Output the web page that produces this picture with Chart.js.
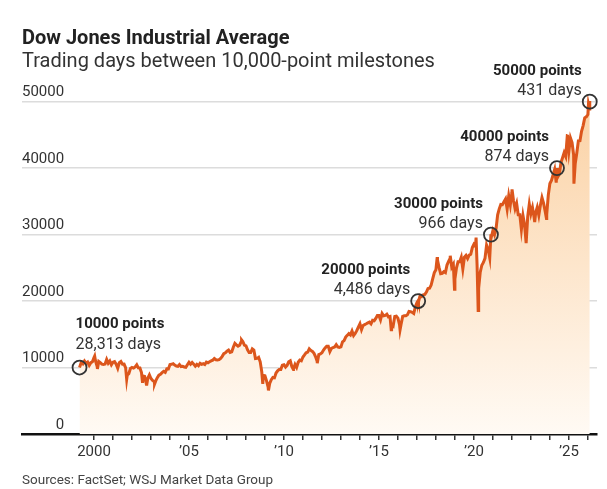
<!DOCTYPE html>
<html>
<head>
<meta charset="utf-8">
<title>Dow Jones Industrial Average</title>
<script src="https://cdn.jsdelivr.net/npm/chart.js@4.4.1/dist/chart.umd.min.js"></script>
<style>
  html, body { margin: 0; padding: 0; background: #fff; }
  body { width: 607px; height: 489px; position: relative; overflow: hidden; font-family: Roboto, "Noto Sans", sans-serif; }
  #wrap { position: absolute; left: 0; top: 0; width: 607px; height: 489px; }
  .title { position: absolute; left: 22px; top: 25px; font-size: 20px; line-height: 24px; font-weight: 700; color: #222; }
  .subtitle { position: absolute; left: 22px; top: 48px; font-size: 20px; line-height: 24px; color: #333; }
  .source { position: absolute; left: 22px; top: 471px; font-size: 13.5px; line-height: 16px; color: #444; }
</style>
</head>
<body>
<div id="wrap"><canvas id="chart"></canvas></div>
<div class="title">Dow Jones Industrial Average</div>
<div class="subtitle">Trading days between 10,000-point milestones</div>
<div class="source">Sources: FactSet; WSJ Market Data Group</div>
<script>
// Month-end closes, starting April 1999
const firstYear = 1999;
const firstMonth = 4;
const monthlyCloses = [
  10789, 10560, 10971, 10655, 10829, 10337, 10729, 10878, 11497,
  10941, 10128, 10922, 10734, 10522, 10448, 10522, 11215, 10651, 10971, 10415, 10787,
  10887, 10495, 9879, 10735, 10912, 10502, 10523, 9950, 8848, 9075, 9852, 10022,
  9920, 10106, 10404, 9946, 9925, 9243, 8737, 8664, 7592, 8397, 8896, 8342,
  8054, 7891, 7992, 8480, 8850, 8985, 9234, 9416, 9275, 9801, 9782, 10454,
  10488, 10584, 10358, 10226, 10188, 10435, 10140, 10174, 10080, 10027, 10428, 10783,
  10490, 10766, 10504, 10193, 10467, 10275, 10641, 10482, 10569, 10440, 10806, 10718,
  10865, 10993, 11109, 11367, 11168, 11150, 11186, 11381, 11679, 12081, 12222, 12463,
  12622, 12269, 12354, 13063, 13628, 13409, 13212, 13358, 13896, 13930, 13372, 13265,
  12650, 12266, 12263, 12820, 12638, 11350, 11378, 11544, 10851, 9325, 8829, 8776,
  8001, 7063, 7609, 8168, 8500, 8447, 9172, 9496, 9712, 9713, 10345, 10428,
  10067, 10325, 10857, 11009, 10137, 9774, 10466, 10015, 10788, 11118, 11006, 11578,
  11892, 12226, 12320, 12811, 12570, 12414, 12143, 11614, 10913, 11955, 12046, 12218,
  12633, 12952, 13212, 13214, 12393, 12880, 13009, 13091, 13437, 13096, 13026, 13104,
  13861, 14054, 14579, 14840, 15116, 14910, 15500, 14810, 15130, 15546, 16086, 16577,
  15699, 16322, 16458, 16581, 16717, 16827, 16563, 17098, 17043, 17391, 17828, 17823,
  17165, 18133, 17776, 17841, 18011, 17620, 17690, 16528, 16285, 17664, 17720, 17425,
  16466, 16517, 17685, 17774, 17787, 17930, 18432, 18401, 18308, 18142, 19124, 19763,
  19864, 20812, 20663, 20941, 21009, 21350, 21891, 21948, 22405, 23377, 24272, 24719,
  26149, 25029, 24103, 24163, 24416, 24271, 25415, 25965, 26458, 25116, 25538, 23327,
  24999, 25916, 25929, 26593, 24815, 26600, 26864, 26403, 26917, 27046, 28051, 28538,
  28256, 25409, 21917, 24346, 25383, 25813, 26428, 28430, 27782, 26502, 29639, 30606,
  29983, 30932, 32982, 33875, 34529, 34503, 34935, 35361, 33844, 35820, 34484, 36338,
  35132, 33893, 34678, 32977, 32990, 30775, 32845, 31510, 28726, 32733, 34590, 33147,
  34086, 32657, 33274, 34098, 32908, 34408, 35560, 34722, 33508, 33053, 35951, 37690,
  38150, 38996, 39807, 37816, 38686, 39119, 40843, 41563, 42330, 41763, 44911, 42544,
  44544, 43841, 42002, 40669, 42270, 44095, 44131, 45545, 46398, 47563, 47716, 48063,
  48892
];

// Intra-month highs and lows
const swingDates = [
  '2000-01-14', '2000-03-07', '2001-09-21', '2002-07-23', '2002-10-09', '2003-03-11',
  '2007-10-09', '2008-11-20', '2009-03-09', '2010-07-02', '2011-10-03', '2015-08-25',
  '2016-02-11', '2018-01-26', '2018-10-03', '2018-12-24', '2020-02-12', '2020-03-23',
  '2022-01-04', '2023-03-15', '2023-10-27', '2024-12-04', '2025-04-08', '2026-01-12'
];
const swingValues = [
  11723, 9796, 8236, 7702, 7286, 7524,
  14165, 7552, 6547, 9686, 10655, 15666,
  15660, 26617, 26828, 21792, 29551, 18592,
  36800, 31874, 32418, 45014, 37645, 49590
];

// Milestone crossings
const milestoneDates = ['1999-03-29', '2017-01-25', '2020-11-24', '2024-05-17', '2026-02-06'];
const milestoneValues = [10000, 20000, 30000, 40000, 50000];
const milestoneCloses = [10006, 20069, 30046, 40004, 50116];
const milestoneLabels = ['10000 points', '20000 points', '30000 points', '40000 points', '50000 points'];
const milestoneDays = ['28,313 days', '4,486 days', '966 days', '874 days', '431 days'];

const yTicks = [0, 10000, 20000, 30000, 40000, 50000];
const xTickYears = [2000, 2001, 2002, 2003, 2004, 2005, 2006, 2007, 2008, 2009, 2010, 2011, 2012,
  2013, 2014, 2015, 2016, 2017, 2018, 2019, 2020, 2021, 2022, 2023, 2024, 2025, 2026];
const xTickLabels = { 2000: '2000', 2005: '\u201905', 2010: '\u201910', 2015: '\u201915', 2020: '\u201920', 2025: '\u201925' };

function toYear(s) {
  const [y, m, d] = s.split('-').map(Number);
  const t0 = Date.UTC(y, 0, 1), t1 = Date.UTC(y + 1, 0, 1);
  return y + (Date.UTC(y, m - 1, d) - t0) / (t1 - t0);
}

const series = [];
monthlyCloses.forEach((v, i) => {
  const k = firstMonth - 1 + i;
  const y = firstYear + Math.floor(k / 12);
  const m = (k % 12) + 1;
  series.push({ x: y + m / 12, y: v });
});
swingDates.forEach((d, i) => series.push({ x: toYear(d), y: swingValues[i] }));
milestoneDates.forEach((d, i) => series.push({ x: toYear(d), y: milestoneCloses[i] }));
series.sort((a, b) => a.x - b.x);

const milestones = milestoneDates.map((d, i) => ({ x: toYear(d), y: milestoneValues[i] }));

const FONT = 'Roboto, "Noto Sans", sans-serif';

// Draws the milestone captions next to the circles
const milestoneText = {
  id: 'milestoneText',
  afterDatasetsDraw(chart) {
    const { ctx, scales } = chart;
    ctx.save();
    milestones.forEach((p, i) => {
      const cx = scales.x.getPixelForValue(p.x);
      const cy = scales.y.getPixelForValue(p.y);
      let tx, b1, b2;
      if (i === 0) {
        ctx.textAlign = 'left';
        tx = cx - 4; b1 = cy - 40; b2 = cy - 19;
      } else {
        ctx.textAlign = 'right';
        tx = cx - 8; b1 = cy - 27; b2 = cy - 7;
      }
      ctx.textBaseline = 'alphabetic';
      ctx.fillStyle = '#222';
      ctx.font = 'bold 15px ' + FONT;
      ctx.fillText(milestoneLabels[i], tx, b1);
      ctx.fillStyle = '#333';
      ctx.font = '16px ' + FONT;
      ctx.fillText(milestoneDays[i], tx, b2);
    });
    ctx.restore();
  }
};

const chartEl = document.getElementById('chart');
new Chart(chartEl.getContext('2d'), {
  type: 'line',
  data: {
    datasets: [
      {
        data: milestones,
        showLine: false,
        pointRadius: 7,
        pointBorderWidth: 1.8,
        pointBorderColor: '#333',
        pointBackgroundColor: 'rgba(0,0,0,0)',
        fill: false,
        clip: false,
        order: 0,
      },
      {
        data: series,
        borderColor: '#dc561c',
        borderWidth: 3,
        pointRadius: 0,
        tension: 0,
        fill: 'origin',
        backgroundColor: (context) => {
          const area = context.chart.chartArea;
          if (!area) return 'rgba(252, 216, 176, 0.5)';
          const g = context.chart.ctx.createLinearGradient(0, area.top, 0, area.bottom);
          g.addColorStop(0, '#fbd1a3');
          g.addColorStop(1, '#fffaf4');
          return g;
        },
        order: 1,
      },
    ],
  },
  options: {
    responsive: true,
    maintainAspectRatio: false,
    animation: false,
    devicePixelRatio: 1,
    layout: { padding: { left: 22, right: 10, top: 95, bottom: 25 } },
    plugins: {
      legend: { display: false },
      tooltip: { enabled: false },
    },
    scales: {
      x: {
        type: 'linear',
        min: 1996.21,
        max: 2026.48,
        afterBuildTicks: (axis) => {
          axis.ticks = xTickYears.map(v => ({ value: v }));
        },
        grid: {
          drawOnChartArea: false,
          drawTicks: true,
          tickLength: 6,
          color: '#333',
          lineWidth: 1.5,
        },
        border: { display: true, color: '#111', width: 2.5 },
        ticks: {
          autoSkip: false,
          maxRotation: 0,
          padding: 3,
          color: '#333',
          font: { family: FONT, size: 15 },
          callback: (value) => xTickLabels[value] || '',
        },
      },
      y: {
        min: 0,
        max: 51000,
        afterBuildTicks: (axis) => {
          axis.ticks = yTicks.map(v => ({ value: v }));
        },
        grid: {
          drawTicks: false,
          lineWidth: 1.5,
          color: (c) => (c.tick && c.tick.value === 0 ? 'rgba(0,0,0,0)' : '#dcdcdc'),
        },
        border: { display: false },
        ticks: {
          mirror: true,
          padding: 0,
          crossAlign: 'far',
          labelOffset: -9,
          color: '#333',
          font: { family: FONT, size: 15 },
          callback: (value) => String(value),
        },
      },
    },
  },
  plugins: [milestoneText],
});
</script>
</body>
</html>
